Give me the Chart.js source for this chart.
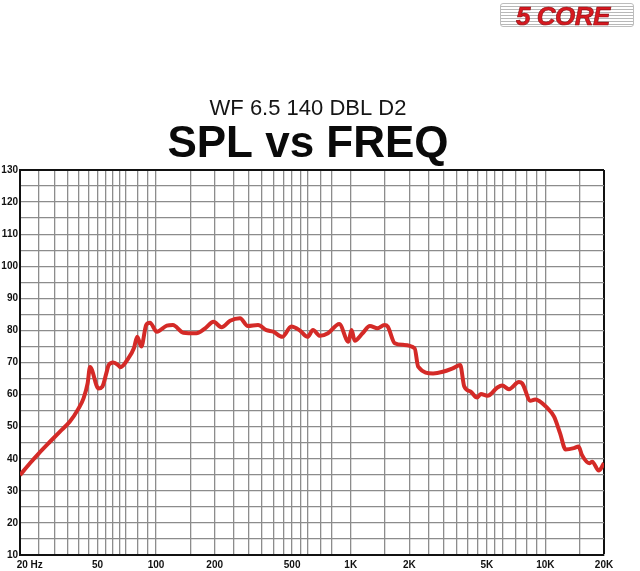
<!DOCTYPE html>
<html>
<head>
<meta charset="utf-8">
<title>SPL vs FREQ</title>
<script src="https://cdn.jsdelivr.net/npm/chart.js@4.4.0/dist/chart.umd.min.js"></script>
<style>
  body { margin: 0; background: #fff; }
  #wrap { position: relative; width: 640px; height: 571px; }
  #logo {
    position: absolute; left: 500px; top: 3px; width: 134px; height: 24px;
    border: 1px solid #bdbdbd; border-radius: 3px;
    background: repeating-linear-gradient(to bottom, #fff 0, #fff 2px, #b8b8b8 2px, #b8b8b8 3px);
    text-align: center; padding-right: 8px; box-sizing: border-box;
  }
  #logo span {
    font: italic 900 26px "Liberation Sans", Arial, sans-serif;
    color: #d71920; line-height: 24px; letter-spacing: -0.5px;
    -webkit-text-stroke: 0.6px #8a0d10;
  }
</style>
</head>
<body>
<div id="wrap">
  <canvas id="myChart" width="640" height="571"></canvas>
  <div id="logo"><span>5 CORE</span></div>
</div>
<script>
var freqHz = [20, 22.5, 25, 28.5, 32, 36, 40, 42.4, 44.5, 45.8, 50.6, 53, 55.5, 57.1, 60.2, 63.9, 65.6,
  72, 77, 80, 84, 89, 93, 101, 113.6, 122, 138, 161, 180, 197, 217, 240, 270, 296, 334, 369, 400,
  445, 495, 545, 600, 640, 695, 764, 873, 973, 1010, 1048, 1150, 1254, 1373, 1490, 1550, 1683,
  1860, 2130, 2220, 2650, 2970, 3340, 3650, 3830, 4140, 4450, 4660, 5040, 5670, 6000, 6500, 7310,
  7600, 8370, 8870, 10270, 11080, 11900, 12700, 14000, 14800, 15400, 16800, 17400, 18800, 20000];
var splDb = [34.9, 38.6, 41.7, 45.3, 48.4, 51.5, 55.7, 58.8, 63.5, 68.6, 61.9, 62.5, 66.6, 69.2, 70, 69.2, 68.5,
  71.3, 74.5, 78, 75, 81.7, 82.4, 79.6, 81.5, 81.7, 79.3, 79.1, 80.8, 82.7, 81, 83, 83.8, 81.4, 81.7, 80.1, 79.6,
  78, 81.2, 80.1, 78, 80.1, 78.3, 79.1, 82, 76.5, 80.1, 76.8, 79.1, 81.4, 80.7, 81.7, 81.2, 76,
  75.5, 74.4, 68.7, 66.6, 67.1, 68.2, 69.2, 62.5, 60.9, 59.1, 60.2, 59.6, 62.2, 62.8, 61.7, 63.9,
  63.5, 58.1, 58.5, 55.7, 53.1, 47.9, 42.9, 43.3, 43.8, 41.2, 38.6, 39.1, 36.3, 38.6];

// graph paper lines and labels
var gridFreqs = [20, 25, 30, 35, 40, 45, 50, 55, 60, 65, 70, 80, 90,
  100, 150, 200, 250, 300, 350, 400, 450, 500, 550, 600, 700, 800,
  1000, 1500, 2000, 2500, 3000, 3500, 4000, 4500, 5000, 5500, 6000, 7000, 8000, 9000,
  10000, 15000, 20000];
var freqTicks = [20, 50, 100, 200, 500, 1000, 2000, 5000, 10000, 20000];
var freqLabels = ['       20 Hz', '50', '100', '200', '500', '1K', '2K', '5K', '10K', '20K'];
var splMin = 10, splMax = 130, splStep = 5;

var points = freqHz.map(function (f, i) { return { x: f, y: splDb[i] }; });
var tickFont = { family: 'Liberation Sans', size: 10, weight: 'bold' };

new Chart('myChart', {
  type: 'line',
  data: {
    datasets: [{
      data: points,
      borderColor: '#d42a27',
      borderWidth: 4,
      pointRadius: 0,
      cubicInterpolationMode: 'monotone',
      fill: false
    }]
  },
  options: {
    responsive: false,
    animation: false,
    layout: { padding: { left: 0, right: 24, top: 0, bottom: 0 } },
    plugins: {
      legend: { display: false },
      tooltip: { enabled: false },
      title: {
        display: true,
        text: 'WF 6.5 140 DBL D2',
        color: '#151515',
        font: { family: 'Liberation Sans', size: 22, weight: 'normal', lineHeight: 1.2 },
        padding: { top: 96, bottom: 0 }
      },
      subtitle: {
        display: true,
        text: 'SPL vs FREQ',
        color: '#0a0a0a',
        font: { family: 'Liberation Sans', size: 44, weight: 'bold', lineHeight: 1 },
        padding: { top: 0, bottom: 3.6 }
      }
    },
    scales: {
      x: {
        type: 'logarithmic',
        min: 20,
        max: 20000,
        afterBuildTicks: function (s) {
          s.ticks = gridFreqs.map(function (v) { return { value: v }; });
        },
        afterFit: function (s) { s.height = 16; s.paddingLeft = 0; s.paddingRight = 36; },
        grid: {
          drawTicks: false,
          color: function (c) { return c.tick && c.tick.value === 20000 ? '#111' : '#8c8c8c'; },
          lineWidth: function (c) { return c.tick && c.tick.value === 20000 ? 2 : 1.3; }
        },
        border: { color: '#111', width: 2 },
        ticks: {
          autoSkip: false,
          maxRotation: 0,
          padding: 4,
          color: '#111',
          font: tickFont,
          callback: function (v) {
            var k = freqTicks.indexOf(v);
            return k >= 0 ? freqLabels[k] : '';
          }
        }
      },
      y: {
        min: splMin,
        max: splMax,
        afterFit: function (s) { s.width = 20; },
        grid: {
          drawTicks: false,
          color: function (c) { return c.tick && c.tick.value === splMax ? '#111' : '#8c8c8c'; },
          lineWidth: function (c) { return c.tick && c.tick.value === splMax ? 2 : 1.3; }
        },
        border: { color: '#111', width: 2 },
        ticks: {
          stepSize: splStep,
          autoSkip: false,
          padding: 2,
          color: '#111',
          font: tickFont,
          callback: function (v) { return v % 10 === 0 ? String(v) : ''; }
        }
      }
    }
  }
});
</script>
</body>
</html>
